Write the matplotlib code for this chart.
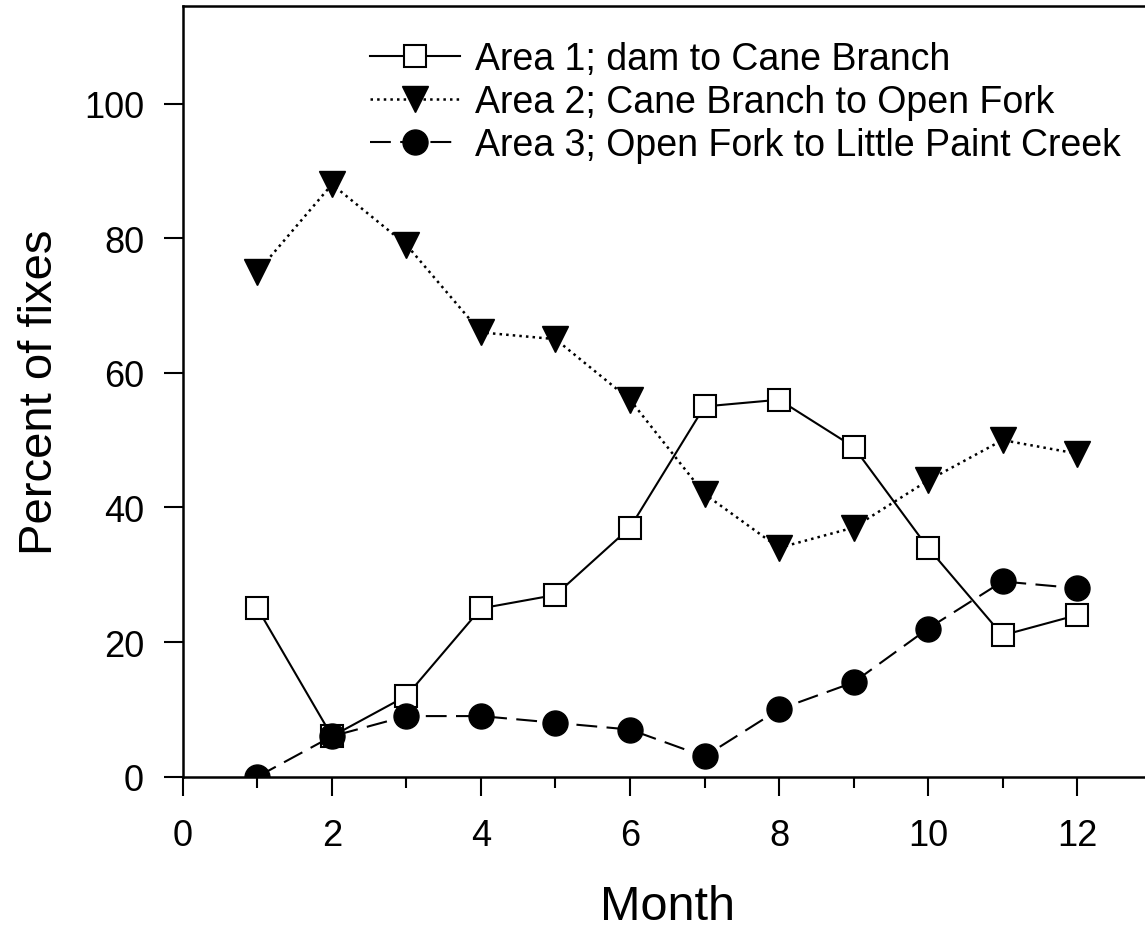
import matplotlib.pyplot as plt
from matplotlib.ticker import MultipleLocator

plt.rcParams['font.family'] = ['Liberation Sans', 'DejaVu Sans']

months = [1, 2, 3, 4, 5, 6, 7, 8, 9, 10, 11, 12]
area1 = [25, 6, 12, 25, 27, 37, 55, 56, 49, 34, 21, 24]
area2 = [75, 88, 79, 66, 65, 56, 42, 34, 37, 44, 50, 48]
area3 = [0, 6, 9, 9, 8, 7, 3, 10, 14, 22, 29, 28]

labels = ['Area 1; dam to Cane Branch',
          'Area 2; Cane Branch to Open Fork',
          'Area 3; Open Fork to Little Paint Creek']

fig = plt.figure(figsize=(11.45, 9.28), dpi=100)
ax = fig.add_axes([0.1598, 0.162, 1.0057 - 0.1598, 0.9925 - 0.162])

ax.plot(months, area1, '-', color='black', lw=1.5, marker='s', ms=16,
        mfc='white', mec='black', mew=1.5, label=labels[0])
ax.plot(months, area2, ':', color='black', lw=1.8, marker='v', ms=19,
        mfc='black', mec='black', label=labels[1])
ax.plot(months, area3, color='black', lw=1.5, dashes=(10, 4.5), marker='o', ms=18,
        mfc='black', mec='black', label=labels[2])

ax.set_xlim(0, 13)
ax.set_ylim(0, 114.5)
ax.xaxis.set_major_locator(MultipleLocator(2))
ax.xaxis.set_minor_locator(MultipleLocator(1))
ax.set_yticks([0, 20, 40, 60, 80, 100])

ax.spines['right'].set_visible(False)
for s in ['left', 'bottom', 'top']:
    ax.spines[s].set_linewidth(1.8)

ax.tick_params(axis='both', which='major', direction='out', length=14, width=1.5,
               labelsize=26, pad=14)
ax.tick_params(axis='x', which='major', pad=16)
ax.tick_params(axis='x', which='minor', direction='out', length=8, width=1.5)

ax.set_xlabel('Month', fontsize=35, labelpad=22)
ax.set_ylabel('Percent of fixes', fontsize=34, labelpad=16)

ax.legend(loc='upper left', bbox_to_anchor=(0.193, 0.954), frameon=False,
          fontsize=27, handlelength=2.4, handletextpad=0.4, labelspacing=0.18,
          borderaxespad=0.0, borderpad=0.0)

fig.savefig('out.png', dpi=100)
